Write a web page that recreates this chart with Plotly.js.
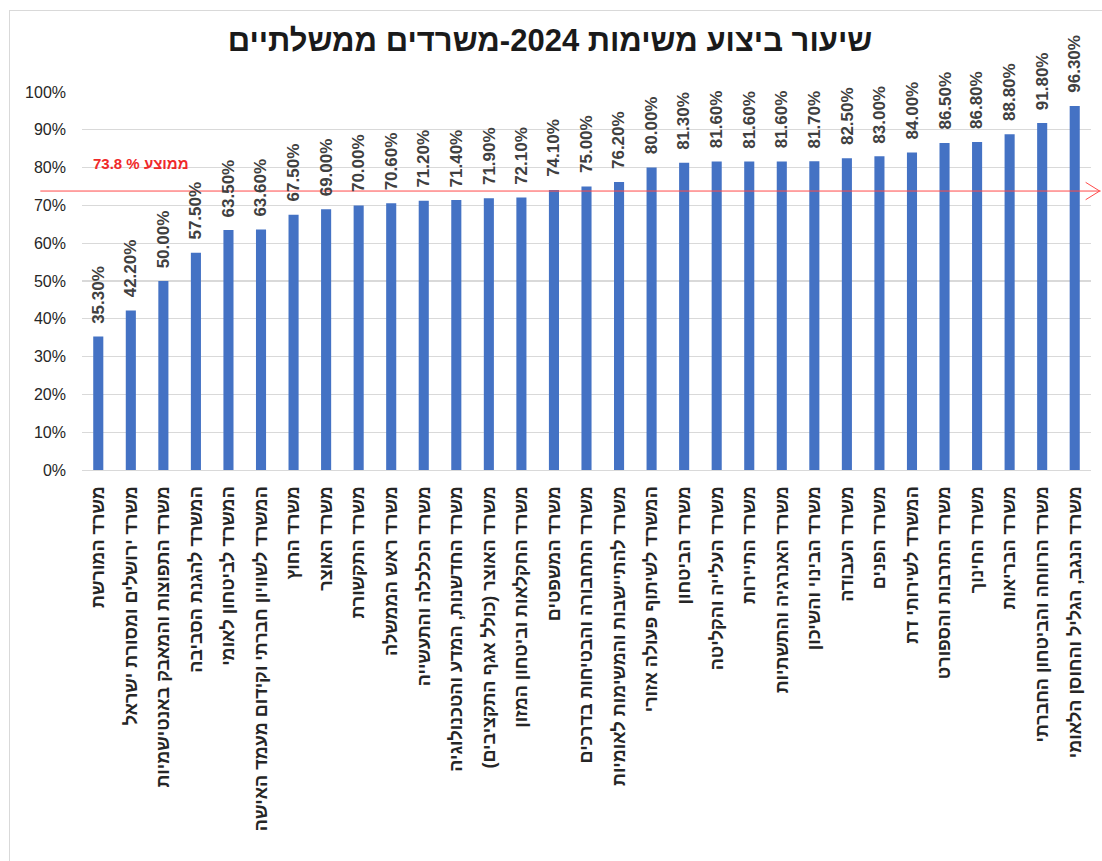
<!DOCTYPE html>
<html>
<head>
<meta charset="utf-8">
<script src="https://cdn.plot.ly/plotly-3.0.1.min.js"></script>
<style>
html,body{margin:0;padding:0;background:#fff;overflow:hidden;width:1102px;height:861px;}
#chart{position:absolute;left:9px;top:10px;width:1092px;height:851px;border:1px solid #d9d9d9;}
</style>
</head>
<body>
<div id="chart"></div>
<script>
const TITLE = 'שיעור ביצוע משימות 2024-משרדים ממשלתיים';
const categories = [
  'משרד המורשת',
  'משרד ירושלים ומסורת ישראל',
  'משרד התפוצות והמאבק באנטישמיות',
  'המשרד להגנת הסביבה',
  'המשרד לביטחון לאומי',
  'המשרד לשוויון חברתי וקידום מעמד האישה',
  'משרד החוץ',
  'משרד האוצר',
  'משרד התקשורת',
  'משרד ראש הממשלה',
  'משרד הכלכלה והתעשייה',
  'משרד החדשנות, המדע והטכנולוגיה',
  'משרד האוצר (כולל אגף התקציבים)',
  'משרד החקלאות וביטחון המזון',
  'משרד המשפטים',
  'משרד התחבורה והבטיחות בדרכים',
  'משרד להתיישבות והמשימות לאומיות',
  'המשרד לשיתוף פעולה אזורי',
  'משרד הביטחון',
  'משרד העלייה והקליטה',
  'משרד התיירות',
  'משרד האנרגיה והתשתיות',
  'משרד הבינוי והשיכון',
  'משרד העבודה',
  'משרד הפנים',
  'המשרד לשירותי דת',
  'משרד התרבות והספורט',
  'משרד החינוך',
  'משרד הבריאות',
  'משרד הרווחה והביטחון החברתי',
  'משרד הנגב, הגליל והחוסן הלאומי'
];
const values = [35.3, 42.2, 50.0, 57.5, 63.5, 63.6, 67.5, 69.0, 70.0, 70.6, 71.2, 71.4, 71.9, 72.1, 74.1, 75.0, 76.2, 80.0, 81.3, 81.6, 81.6, 81.6, 81.7, 82.5, 83.0, 84.0, 86.5, 86.8, 88.8, 91.8, 96.3];
const AVERAGE = 73.8;
const AVERAGE_LABEL = 'ממוצע % 73.8';
const yTickVals = [0, 10, 20, 30, 40, 50, 60, 70, 80, 90, 100];
const yTickText = ['0%', '10%', '20%', '30%', '40%', '50%', '60%', '70%', '80%', '90%', '100%'];

const FONT = '"Liberation Sans", "DejaVu Sans", Arial, sans-serif';

const barTrace = {
  type: 'bar',
  x: categories,
  y: values,
  marker: {color: '#4472c4', line: {width: 0}},
  hoverinfo: 'skip'
};

const dataAnnotations = categories.map((c, i) => ({
  x: c, y: values[i], xref: 'x', yref: 'y',
  text: '<b>' + values[i].toFixed(2) + '%</b>',
  textangle: -90,
  showarrow: false,
  xanchor: 'center', yanchor: 'bottom',
  yshift: 11,
  font: {family: FONT, size: 17, color: '#404040'}
}));

const avgAnnotation = {
  x: 0.0583, xref: 'paper', y: AVERAGE, yref: 'y',
  yshift: 28,
  text: '<b>' + AVERAGE_LABEL + '</b>',
  showarrow: false, xanchor: 'center', yanchor: 'middle',
  font: {family: FONT, size: 15, color: '#f02a2a'}
};

const chevH = 2.3; // half-height of arrowhead in y units
const shapes = [
  {type: 'line', xref: 'paper', yref: 'y', x0: -0.0413, x1: 1.0096, y0: AVERAGE, y1: AVERAGE,
   line: {color: '#ff4a4a', width: 1}},
  {type: 'path', xref: 'paper', yref: 'y',
   path: `M 0.9947 ${AVERAGE + chevH} L 1.0086 ${AVERAGE} L 0.9947 ${AVERAGE - chevH}`,
   line: {color: '#ff4a4a', width: 1}}
];

const layout = {
  width: 1092, height: 851,
  margin: {l: 72, r: 11, t: 81, b: 392},
  paper_bgcolor: '#ffffff', plot_bgcolor: '#ffffff',
  showlegend: false,
  bargap: 0.69,
  title: {
    text: '<b>' + TITLE + '</b>',
    x: 0.4945, xref: 'container', xanchor: 'center',
    y: 0.966, yref: 'container', yanchor: 'middle',
    font: {family: FONT, size: 31, color: '#1a1a1a'}
  },
  xaxis: {
    type: 'category',
    tickangle: -90,
    ticks: '',
    showgrid: false,
    showline: true, linecolor: '#d9d9d9', linewidth: 1,
    ticklabelstandoff: 8,
    tickfont: {family: FONT, size: 18, color: '#262626', weight: 'bold'},
    fixedrange: true
  },
  yaxis: {
    range: [0, 100],
    tickvals: yTickVals, ticktext: yTickText,
    showgrid: true, gridcolor: '#d9d9d9', gridwidth: 1.3,
    zeroline: false, showline: false, ticks: '',
    ticklabelstandoff: 15,
    tickfont: {family: FONT, size: 16, color: '#262626'},
    fixedrange: true
  },
  annotations: dataAnnotations.concat([avgAnnotation]),
  shapes: shapes
};

Plotly.newPlot('chart', [barTrace], layout, {displayModeBar: false, staticPlot: true});
</script>
</body>
</html>
